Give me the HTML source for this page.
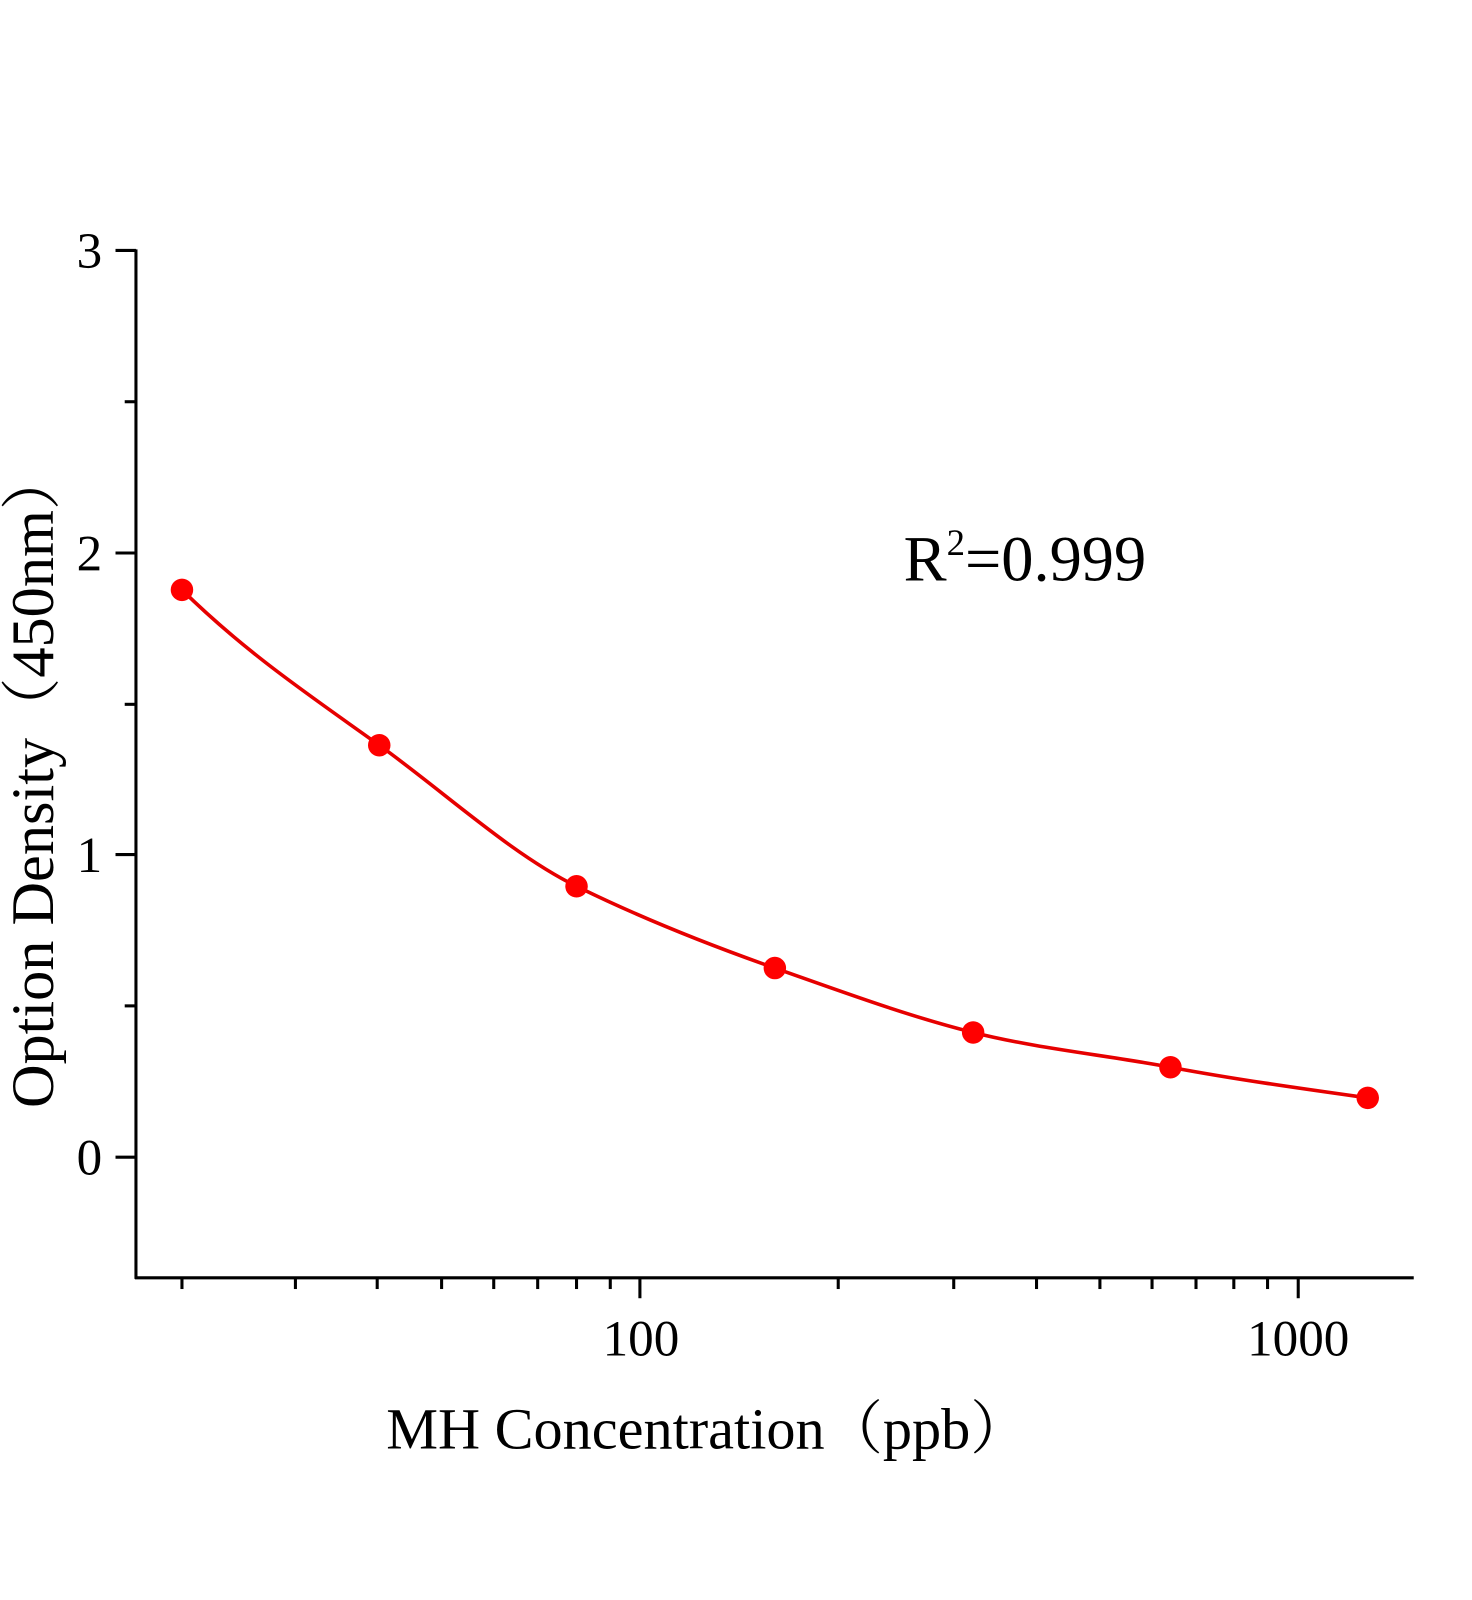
<!DOCTYPE html>
<html><head><meta charset="utf-8"><style>
html,body{margin:0;padding:0;background:#fff;}
svg{display:block;}
text{font-family:"Liberation Serif","Noto Serif CJK SC",serif;fill:#000;}
</style></head><body>
<svg width="1472" height="1600" viewBox="0 0 1440 1565.2" preserveAspectRatio="none" xmlns="http://www.w3.org/2000/svg">
<g stroke="#000" stroke-width="3" fill="none">
<line x1="133" y1="244" x2="133" y2="1251"/>
<line x1="132" y1="1250" x2="1383" y2="1250"/>
<line x1="113" y1="245" x2="133" y2="245"/>
<line x1="113" y1="541" x2="133" y2="541"/>
<line x1="113" y1="836" x2="133" y2="836"/>
<line x1="113" y1="1132" x2="133" y2="1132"/>
<line x1="122" y1="393" x2="133" y2="393"/>
<line x1="122" y1="689" x2="133" y2="689"/>
<line x1="122" y1="984" x2="133" y2="984"/>
<line x1="626" y1="1250" x2="626" y2="1270"/>
<line x1="1270" y1="1250" x2="1270" y2="1270"/>
<line x1="178" y1="1250" x2="178" y2="1261"/>
<line x1="289" y1="1250" x2="289" y2="1261"/>
<line x1="369" y1="1250" x2="369" y2="1261"/>
<line x1="432" y1="1250" x2="432" y2="1261"/>
<line x1="483" y1="1250" x2="483" y2="1261"/>
<line x1="526" y1="1250" x2="526" y2="1261"/>
<line x1="564" y1="1250" x2="564" y2="1261"/>
<line x1="597" y1="1250" x2="597" y2="1261"/>
<line x1="820" y1="1250" x2="820" y2="1261"/>
<line x1="933" y1="1250" x2="933" y2="1261"/>
<line x1="1014" y1="1250" x2="1014" y2="1261"/>
<line x1="1076" y1="1250" x2="1076" y2="1261"/>
<line x1="1127" y1="1250" x2="1127" y2="1261"/>
<line x1="1170" y1="1250" x2="1170" y2="1261"/>
<line x1="1207" y1="1250" x2="1207" y2="1261"/>
<line x1="1240" y1="1250" x2="1240" y2="1261"/>
</g>
<g font-size="50" text-anchor="end">
<text x="100" y="262">3</text>
<text x="100" y="558">2</text>
<text x="100" y="853">1</text>
<text x="100" y="1149">0</text>
</g>
<g font-size="50" text-anchor="middle">
<text x="627" y="1326">100</text>
<text x="1270" y="1326">1000</text>
</g>
<text x="692" y="1417" font-size="57" text-anchor="middle">MH Concentration（ppb）</text>
<text transform="translate(52,762) rotate(-90)" font-size="59" text-anchor="middle">Option Density（450nm）</text>
<text x="884" y="568" font-size="63">R<tspan font-size="36" dy="-25">2</tspan><tspan dy="25">=0.999</tspan></text>
<path d="M178,577 C242,640 307,683 371,729 C435,775 500,835.5 564,867 C628,898.5 694,924.5 758,947 C822,969.5 888,994 952,1010 C1016,1026 1081,1032 1145,1044 C1209,1056 1274,1065 1338,1074" stroke="#e60000" stroke-width="3.5" fill="none"/>
<g fill="#f00">
<circle cx="178" cy="577" r="11"/>
<circle cx="371" cy="729" r="11"/>
<circle cx="564" cy="867" r="11"/>
<circle cx="758" cy="947" r="11"/>
<circle cx="952" cy="1010" r="11"/>
<circle cx="1145" cy="1044" r="11"/>
<circle cx="1338" cy="1074" r="11"/>
</g>
</svg>
</body></html>
